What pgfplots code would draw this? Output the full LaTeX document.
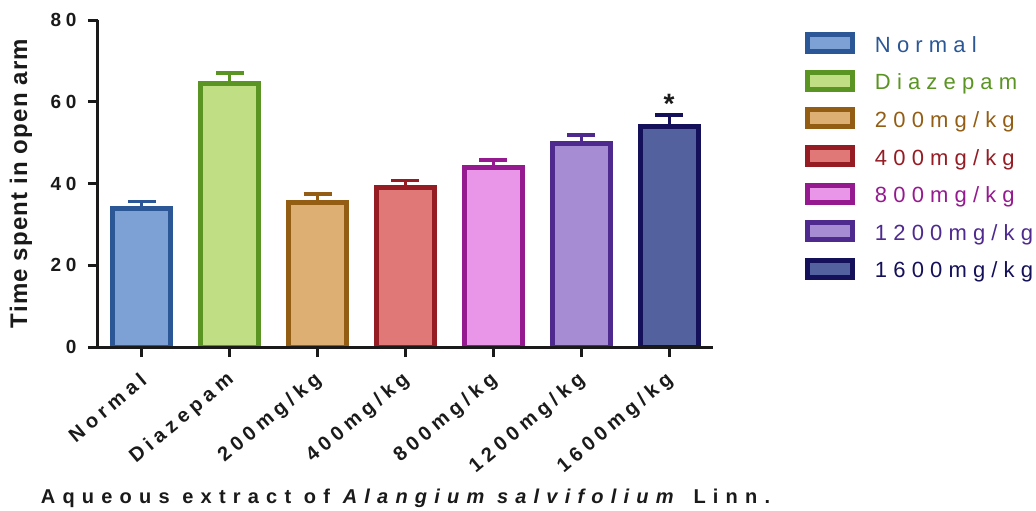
\documentclass[border=0pt]{standalone}
\usepackage{pgfplots}
\pgfplotsset{compat=1.18}
\usepackage{fontspec}
\setmainfont{Liberation Sans}
\newfontfamily\tickfont[LetterSpace=25]{Liberation Sans}
\newfontfamily\xtickfont[LetterSpace=25]{Liberation Sans}
\newfontfamily\legfont[LetterSpace=28]{Liberation Sans}
\newfontfamily\labfont[LetterSpace=36]{Liberation Sans}
\newfontfamily\ylabfont[LetterSpace=5]{Liberation Sans}
\definecolor{axisc}{HTML}{1A1A1A}
\definecolor{f1}{HTML}{7DA1D4}\definecolor{e1}{HTML}{2B5797}
\definecolor{f2}{HTML}{C0DF85}\definecolor{e2}{HTML}{5A9422}
\definecolor{f3}{HTML}{DEAF73}\definecolor{e3}{HTML}{935D14}
\definecolor{f4}{HTML}{E07878}\definecolor{e4}{HTML}{961C24}
\definecolor{f5}{HTML}{E995E8}\definecolor{e5}{HTML}{951A8F}
\definecolor{f6}{HTML}{A68CD3}\definecolor{e6}{HTML}{4E2A8F}
\definecolor{f7}{HTML}{53629E}\definecolor{e7}{HTML}{141059}
\newcommand\lstrut{\rule[-5bp]{0pt}{21bp}}
\pgfplotsset{
  mybar/.style n args={2}{ybar, bar width=58bp, bar shift=0pt, fill=#1, draw=#2, line width=5bp,
    error bars/.cd, y dir=plus, y explicit, error mark=|,
    error bar style={line width=3bp, draw=#2},
    error mark options={line width=3.5bp, mark size=14bp, draw=#2}},
}
\begin{document}
\begin{tikzpicture}
\useasboundingbox (-98bp,-164bp) rectangle (938bp,347bp);
\begin{axis}[
  at={(0,0)}, anchor=south west,
  scale only axis, width=615bp, height=327bp,
  xmin=-0.5, xmax=6.5, ymin=0, ymax=80,
  axis x line*=bottom, axis y line*=left,
  axis line style={line width=3bp, draw=axisc, -},
  axis on top,
  tick align=outside, major tick length=10bp,
  tick style={line width=3bp, draw=axisc},
  xtick={0,1,2,3,4,5,6},
  xticklabels={Normal,Diazepam,200mg/kg,400mg/kg,800mg/kg,1200mg/kg,1600mg/kg},
  ytick={0,20,40,60,80},
  yticklabels={0,20,40,60,80},
  yticklabel style={font=\tickfont\bfseries\fontsize{19bp}{21bp}\selectfont, text=axisc, xshift=-8bp},
  xticklabel style={font=\xtickfont\bfseries\fontsize{20bp}{22bp}\selectfont, text=axisc,
     xshift=4bp, yshift=-18bp, rotate=40, anchor=east},
  ylabel={Time spent in open arm},
  ylabel style={font=\ylabfont\bfseries\fontsize{24bp}{28bp}\selectfont, text=axisc,
     at={(axis description cs:-0.1252,0.5)}, anchor=center},
  xlabel={Aqueous extract of \textit{Alangium salvifolium} Linn.},
  xlabel style={font=\labfont\bfseries\fontsize{20bp}{22bp}\selectfont, text=axisc,
     at={(axis description cs:0.5,-0.462)}, anchor=center},
  legend style={at={(axis description cs:1.1496,0.963)}, anchor=north west,
     draw=none, fill=none, inner sep=0pt, outer sep=0pt,
     row sep=15.6bp, column sep=20bp,
     font=\legfont\fontsize{22bp}{26bp}\selectfont,
     nodes={inner sep=0pt}},
  legend cell align=left,
  legend image code/.code={\draw[#1, line width=5bp] (2.5bp,-6.5bp) rectangle (47.5bp,10.5bp);},
]
\addplot[mybar={f1}{e1}] coordinates {(0,33.9) +- (0,1.7)};
\addlegendentry{\lstrut\textcolor{e1}{Normal}}
\addplot[mybar={f2}{e2}] coordinates {(1,64.5) +- (0,2.5)};
\addlegendentry{\lstrut\textcolor{e2}{Diazepam}}
\addplot[mybar={f3}{e3}] coordinates {(2,35.4) +- (0,2.0)};
\addlegendentry{\lstrut\textcolor{e3}{200mg/kg}}
\addplot[mybar={f4}{e4}] coordinates {(3,39.0) +- (0,1.7)};
\addlegendentry{\lstrut\textcolor{e4}{400mg/kg}}
\addplot[mybar={f5}{e5}] coordinates {(4,43.9) +- (0,1.9)};
\addlegendentry{\lstrut\textcolor{e5}{800mg/kg}}
\addplot[mybar={f6}{e6}] coordinates {(5,49.9) +- (0,2.0)};
\addlegendentry{\lstrut\textcolor{e6}{1200mg/kg}}
\addplot[mybar={f7}{e7}] coordinates {(6,53.9) +- (0,2.9)};
\addlegendentry{\lstrut\textcolor{e7}{1600mg/kg}}
\node[anchor=base, text=axisc, font=\bfseries\fontsize{28bp}{30bp}\selectfont] at (axis cs:6,57.2) {*};
\end{axis}
\end{tikzpicture}
\end{document}
